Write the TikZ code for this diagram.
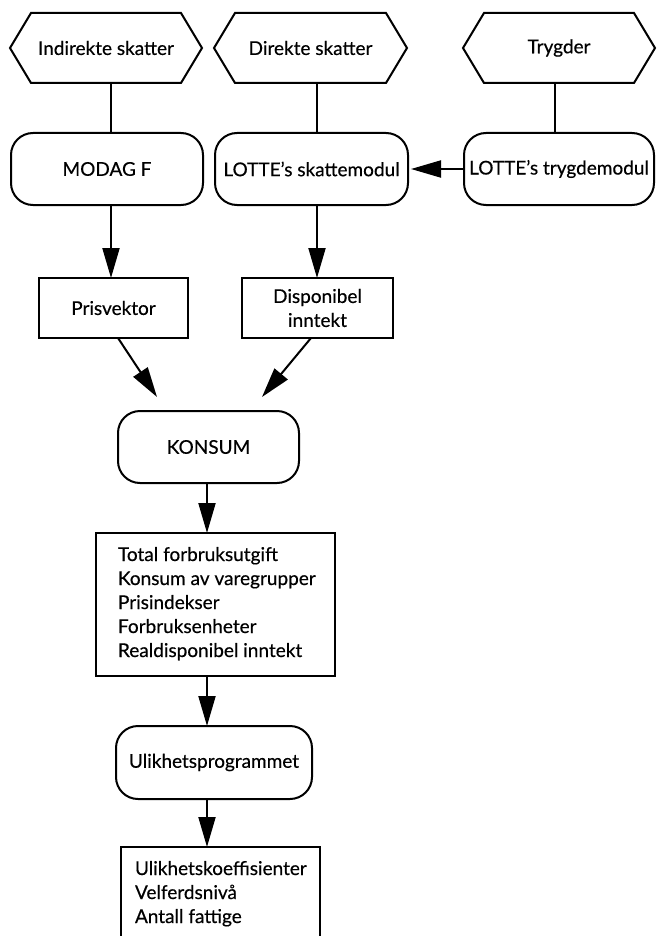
\documentclass[tikz,border=0pt]{standalone}
\usepackage{fontspec}
\setmainfont{Lato}[FakeBold=0.4]
\usetikzlibrary{arrows.meta,calc}
\tikzset{
  x=1pt,y=-1pt,
  base/.style={inner sep=0pt,outer sep=0pt,font=\fontsize{19}{24}\selectfont,line width=2pt},
  hexnode/.style={base,minimum width=192pt,minimum height=70pt},
  roundbox/.style={base,draw,rounded corners=22pt,minimum height=72pt},
  sqbox/.style={base,draw,minimum height=60pt},
  line/.style={line width=2pt},
  arr/.style={line width=2pt,-{Triangle[length=30pt,width=17pt]}},
}
\newcommand{\hexdraw}[1]{\draw[line,line join=miter] (#1.west) -- ([xshift=21pt]#1.north west) -- ([xshift=-21pt]#1.north east) -- (#1.east) -- ([xshift=-21pt]#1.south east) -- ([xshift=21pt]#1.south west) -- cycle;}
\begin{document}
\begin{tikzpicture}
\clip (0,0) rectangle (656,936);
\fill[white] (0,0) rectangle (656,936);
% hexagons
\node[hexnode] (h1) at (106,48) {Indirekte skatter};
\node[hexnode,minimum width=193pt] (h2) at (310.5,48) {Direkte skatter};
\node[hexnode] (h3) at (559,48) {Trygder};
\hexdraw{h1}\hexdraw{h2}\hexdraw{h3}
% row 2
\node[roundbox,minimum width=192pt] (modag) at (107,169) {MODAG F};
\node[roundbox,minimum width=193pt] (skatt) at (311.5,169) {LOTTE’s skattemodul};
\node[roundbox,minimum width=190pt] (trygd) at (559,169) {LOTTE’s trygdemodul};
% row 3
\node[sqbox,minimum width=149pt] (pris) at (113.5,308) {Prisvektor};
\node[sqbox,minimum width=151pt,align=center] (disp) at (317.5,308) {Disponibel\\inntekt};
% konsum
\node[roundbox,minimum width=181pt] (kons) at (208.5,447) {KONSUM};
\node[sqbox,minimum width=239pt,minimum height=143pt] (big) at (215.5,604.5) {};
\node[base,anchor=north west,align=left] (bigtxt) at (118,547) {Total forbruksutgift\\Konsum av varegrupper\\Prisindekser\\Forbruksenheter\\Realdisponibel inntekt};
\node[roundbox,minimum width=196pt,minimum height=73pt] (ulik) at (214,762.5) {Ulikhetsprogrammet};
\node[sqbox,minimum width=199pt,minimum height=140pt,anchor=north] (res) at (220.5,847) {};
\node[base,anchor=north west,align=left] (restxt) at (135,861) {Ulikhetskoeffisienter\\Velferdsnivå\\Antall fattige};
% coordinates
\coordinate (xa) at (111,0);
\coordinate (xb) at (317,0);
\coordinate (xc) at (555,0);
\coordinate (xm) at (207,0);
\coordinate (t1) at (157,397);
\coordinate (t2) at (262,397);
% connectors
\draw[line] (h1.south -| xa) -- (modag.north -| xa);
\draw[line] (h2.south -| xb) -- (skatt.north -| xb);
\draw[line] (h3.south -| xc) -- (trygd.north -| xc);
\draw[arr,shorten >=3pt] (trygd.west) -- (skatt.east);
\draw[arr] (modag.south -| xa) -- (pris.north -| xa);
\draw[arr] (skatt.south -| xb) -- (disp.north -| xb);
\draw[arr] ([xshift=4.5pt]pris.south) -- (t1);
\draw[arr] ([xshift=-6.5pt]disp.south) -- (t2);
\draw[arr] (kons.south -| xm) -- (big.north -| xm);
\draw[arr] (big.south -| xm) -- (ulik.north -| xm);
\draw[arr] (ulik.south -| xm) -- (res.north -| xm);
\end{tikzpicture}
\end{document}
